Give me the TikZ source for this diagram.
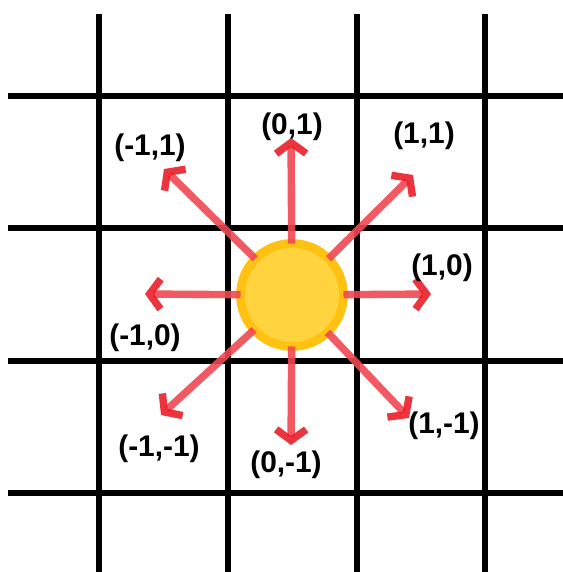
\documentclass[tikz,border=0pt]{standalone}
\usepackage{fontspec}
\setmainfont{Liberation Sans}
\usetikzlibrary{arrows.meta}
\definecolor{rayred}{RGB}{240,72,82}
\definecolor{tipred}{RGB}{234,30,42}
\definecolor{sunring}{RGB}{255,194,18}
\definecolor{sunfill}{RGB}{255,212,62}

\begin{document}
\begin{tikzpicture}[x=0.02cm,y=-0.02cm,
    gridline/.style={line width=3.3pt},
    ray/.style={rayred, line width=4.2pt, draw opacity=0.9,
      -{Straight Barb[tipred, length=0.22cm, width=0.6cm]}},
    lbl/.style={font=\bfseries\fontsize{17}{20}\selectfont}]
        \useasboundingbox (0,0) rectangle (563,572);
        % Grille
        \draw[gridline] (99,14) -- (99,572);
        \draw[gridline] (228,14) -- (228,572);
        \draw[gridline] (357,14) -- (357,572);
        \draw[gridline] (485,14) -- (485,572);
        \draw[gridline] (8,96) -- (563,96);
        \draw[gridline] (8,228) -- (563,228);
        \draw[gridline] (8,361) -- (563,361);
        \draw[gridline] (8,493) -- (563,493);
        
        % Soleil
        \node[circle, fill=sunfill, draw=sunring, line width=5pt,
          minimum size=2.06cm, inner sep=0pt, outer sep=0pt] (sun) at (292,295) {};
        
        % Extremites des fleches
        \coordinate (t_n) at (291,138);
        \coordinate (t_s) at (291,445);
        \coordinate (t_e) at (431,294);
        \coordinate (t_w) at (145,294);
        \coordinate (t_ne) at (413,175);
        \coordinate (t_nw) at (164,169);
        \coordinate (t_sw) at (161,415);
        \coordinate (t_se) at (409,418);
        
        % Fleches
        \draw[ray] (sun) -- (t_n);
        \draw[ray] (sun) -- (t_s);
        \draw[ray] (sun) -- (t_e);
        \draw[ray] (sun) -- (t_w);
        \draw[ray] (sun) -- (t_ne);
        \draw[ray] (sun) -- (t_nw);
        \draw[ray] (sun) -- (t_sw);
        \draw[ray] (sun) -- (t_se);
        
        % Labels des directions
        \node[lbl] (l_n) at (292,127) {(0,1)};
        \node[lbl] (l_s) at (286,465) {(0,-1)};
        \node[lbl] (l_e) at (442,268) {(1,0)};
        \node[lbl] (l_w) at (145,338) {(-1,0)};
        \node[lbl] (l_ne) at (424,136) {(1,1)};
        \node[lbl] (l_nw) at (150,148) {(-1,1)};
        \node[lbl] (l_sw) at (159,449) {(-1,-1)};
        \node[lbl] (l_se) at (444,426) {(1,-1)};
    \end{tikzpicture}
\end{document}
